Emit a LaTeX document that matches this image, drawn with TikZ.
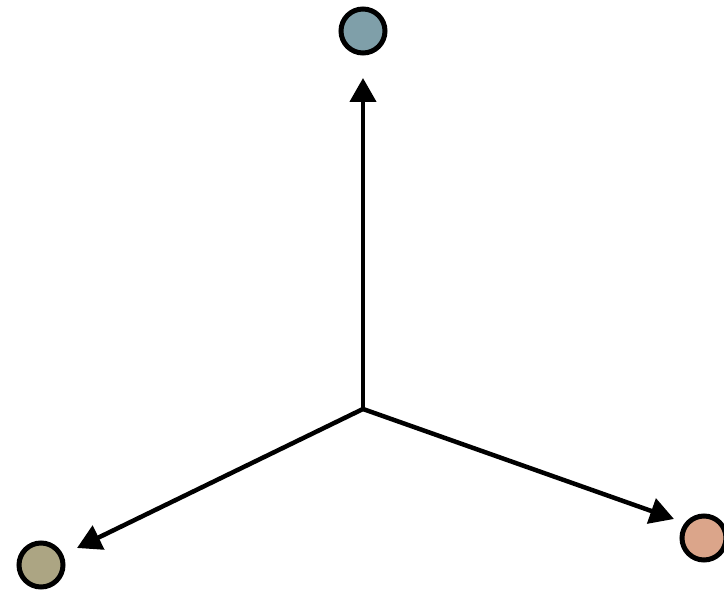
\documentclass[tikz,border=0pt]{standalone}
\usetikzlibrary{arrows.meta}
\definecolor{cTop}{HTML}{7F9FA9}
\definecolor{cLeft}{HTML}{ACA583}
\definecolor{cRight}{HTML}{DBA58A}
\begin{document}
\begin{tikzpicture}[x=1pt,y=-1pt,
  dot/.style={circle,draw=black,line width=5pt,minimum size=44pt,inner sep=0pt},
  arr/.style={line width=4.5pt,-{Triangle[length=24pt,width=26pt]}}]
\useasboundingbox (0,0) rectangle (724,591);
\node[dot,fill=cTop] (top) at (363,31) {};
\node[dot,fill=cLeft] (left) at (41,565) {};
\node[dot,fill=cRight] (right) at (704,538) {};
\coordinate (o) at (363,409);
\coordinate (tipT) at (363,78);
\coordinate (tipL) at (77,548);
\coordinate (tipR) at (674,519);
\draw[arr] (o) -- (tipT);
\draw[arr] (o) -- (tipL);
\draw[arr] (o) -- (tipR);
\end{tikzpicture}
\end{document}
